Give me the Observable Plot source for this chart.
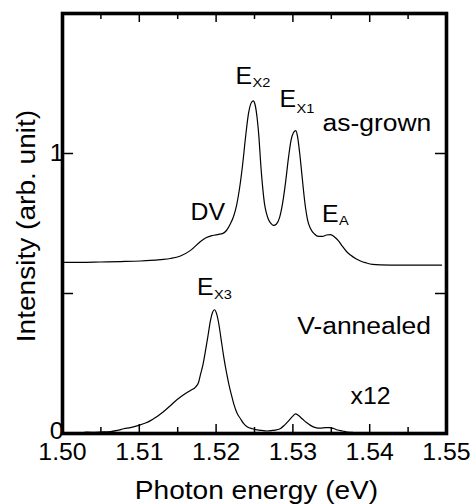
<!DOCTYPE html>
<html><head><meta charset="utf-8">
<script src="https://cdn.jsdelivr.net/npm/d3@7"></script>
<script src="https://cdn.jsdelivr.net/npm/@observablehq/plot@0.6"></script>
<style>
html,body{margin:0;padding:0;background:#fff;}
</style></head><body><div id="chart"></div>
<script>
// as-grown spectrum (photon energy eV, intensity arb. unit)
const grownEnergy = [1.5000,1.50234,1.50495,1.50755,1.51016,1.51146,1.51276,1.51406,1.51536,1.51667,1.51797,1.51875,1.51953,1.52031,1.52083,1.52135,1.52188,1.52227,1.52266,1.52305,1.52344,1.52383,1.52422,1.52454,1.52483,1.52507,1.52535,1.52559,1.52578,1.52604,1.52630,1.52656,1.52682,1.52715,1.52747,1.52786,1.52826,1.52865,1.52904,1.52943,1.52975,1.53008,1.53038,1.53060,1.53086,1.53112,1.53138,1.53164,1.53190,1.53229,1.53281,1.53333,1.53385,1.53438,1.53490,1.53542,1.53594,1.53646,1.53698,1.53750,1.53815,1.53880,1.53958,1.54036,1.54141,1.54401,1.54661,1.54935];
const grownIntensity = [0.611,0.611,0.6125,0.614,0.616,0.618,0.621,0.625,0.634,0.654,0.686,0.700,0.707,0.711,0.714,0.725,0.750,0.775,0.814,0.875,0.957,1.057,1.143,1.179,1.188,1.175,1.125,1.054,0.975,0.886,0.821,0.786,0.764,0.750,0.743,0.748,0.771,0.821,0.896,0.986,1.046,1.075,1.082,1.061,1.007,0.939,0.868,0.807,0.764,0.732,0.7125,0.704,0.704,0.709,0.710,0.702,0.688,0.668,0.650,0.6375,0.625,0.616,0.609,0.604,0.602,0.601,0.601,0.601];
// V-annealed spectrum (x12)
const annealedEnergy = [1.50234,1.50322,1.5043,1.50495,1.50625,1.50716,1.50798,1.50885,1.50993,1.51081,1.51146,1.51211,1.51276,1.51341,1.51406,1.51471,1.51536,1.51602,1.51667,1.51732,1.51771,1.51797,1.51829,1.51862,1.51895,1.51927,1.51953,1.51979,1.52005,1.52035,1.52064,1.52100,1.52135,1.52165,1.52201,1.52230,1.52275,1.52318,1.52357,1.52409,1.52474,1.52535,1.52591,1.52665,1.52734,1.52786,1.52839,1.52891,1.52947,1.52995,1.53034,1.53073,1.53121,1.53177,1.53229,1.53294,1.53359,1.53424,1.53477,1.53529,1.53581,1.53646,1.53707,1.53776,1.53837,1.54010,1.54401,1.54922];
const annealedIntensity = [0.000,0.005,0.004,0.005,0.007,0.011,0.017,0.021,0.029,0.0375,0.046,0.057,0.070,0.084,0.100,0.116,0.130,0.143,0.154,0.166,0.182,0.211,0.246,0.296,0.350,0.404,0.432,0.442,0.429,0.392,0.339,0.273,0.218,0.1775,0.136,0.106,0.071,0.0525,0.036,0.023,0.017,0.013,0.011,0.009,0.011,0.013,0.018,0.030,0.046,0.061,0.070,0.064,0.0525,0.039,0.029,0.021,0.019,0.021,0.021,0.018,0.0125,0.009,0.005,0.004,0.001,0.000,0.000,0.000];

const xTickLabels = [1.50,1.51,1.52,1.53,1.54,1.55];
const xMinorTicks = [1.505,1.515,1.525,1.535,1.545];
const yMajorTicks = [0.5,1.0];
const yTickLabels = [0,1];

// annotations: text, energy, intensity (baseline), kind
const labelText   = ["E","X2","E","X1","as-grown","DV","E","A","E","X3","V-annealed","x12"];
const labelEnergy = [1.52253,1.52474,1.52826,1.53047,1.53385,1.51667,1.53380,1.53600,1.51751,1.51973,1.53056,1.5375];
const labelValue  = [1.250,1.239,1.165,1.146,1.082,0.761,0.755,0.746,0.493,0.479,0.356,0.1036];
const labelKind   = ["E","sub","E","sub","big","mid","E","sub","E","sub","big","mid"];

const W = 473, H = 504, mL = 62, mR = 27, mT = 13, mB = 71;
const fw = W - mL - mR, fh = H - mT - mB;

const grown = grownEnergy.map((e,i)=>({e, v: grownIntensity[i]}));
const annealed = annealedEnergy.map((e,i)=>({e, v: annealedIntensity[i]}));
const labels = labelText.map((t,i)=>({t, e: labelEnergy[i], v: labelValue[i], k: labelKind[i]}));
const sizeOf = {E: 23, sub: 13.5, big: 24.5, mid: 23};
const xMajor = xTickLabels.slice(1,-1);

const labelMarks = Object.keys(sizeOf).map(k =>
  Plot.text(labels.filter(d=>d.k===k), {x: "e", y: "v", text: "t", textAnchor: "start", lineAnchor: "bottom", fontSize: sizeOf[k], fill: "#000"}));

const plot = Plot.plot({
  width: W, height: H,
  marginLeft: mL, marginRight: mR, marginTop: mT, marginBottom: mB,
  style: {fontFamily: "Arial, 'Liberation Sans', sans-serif", color: "#000", background: "#fff"},
  x: {domain: [1.50, 1.55]},
  y: {domain: [0, 1.5]},
  marks: [
    Plot.line(grown, {x: "e", y: "v", stroke: "#000", strokeWidth: 1.2, curve: "monotone-x"}),
    Plot.line(annealed, {x: "e", y: "v", stroke: "#000", strokeWidth: 1.2, curve: "monotone-x"}),
    // inward ticks
    Plot.tickX(xMajor, {x: d=>d, stroke: "#000", strokeWidth: 1.5, insetTop: fh - 9}),
    Plot.tickX(xMajor, {x: d=>d, stroke: "#000", strokeWidth: 1.5, insetBottom: fh - 9}),
    Plot.tickX(xMinorTicks, {x: d=>d, stroke: "#000", strokeWidth: 1.5, insetTop: fh - 6}),
    Plot.tickX(xMinorTicks, {x: d=>d, stroke: "#000", strokeWidth: 1.5, insetBottom: fh - 6}),
    Plot.tickY(yMajorTicks, {y: d=>d, stroke: "#000", strokeWidth: 1.5, insetRight: fw - 11}),
    Plot.tickY(yMajorTicks, {y: d=>d, stroke: "#000", strokeWidth: 1.5, insetLeft: fw - 11}),
    Plot.frame({stroke: "#000", strokeWidth: 3.6}),
    Plot.axisX(xTickLabels, {tickSize: 0, tickPadding: 10, tickFormat: d3.format(".2f"), fontSize: 23, label: null}),
    Plot.axisY(yTickLabels.filter(d=>d!==0), {tickSize: 0, tickPadding: -1, tickFormat: d3.format("d"), fontSize: 23, label: null}),
    Plot.axisY(yTickLabels.filter(d=>d===0), {tickSize: 0, tickPadding: -1, dy: -2, tickFormat: d3.format("d"), fontSize: 23, label: null}),
    ...labelMarks,
    Plot.text(["Photon energy (eV)"], {frameAnchor: "bottom", dx: 2, dy: 65, textAnchor: "middle", lineAnchor: "bottom", fontSize: 26, fill: "#000"}),
    Plot.text(["Intensity (arb. unit)"], {frameAnchor: "left", dx: -36, dy: 2.5, rotate: -90, textAnchor: "middle", lineAnchor: "middle", fontSize: 26, fill: "#000"})
  ]
});

// slightly wide glyphs as in the reference (stretch along the reading direction)
const S = 1.08;
plot.querySelectorAll("text").forEach(t => {
  const tr = t.getAttribute("transform");
  if (tr) {
    t.setAttribute("transform", tr + " scale(" + S + ",1)");
  } else {
    const x = +(t.getAttribute("x") || 0), y = +(t.getAttribute("y") || 0);
    t.removeAttribute("x"); t.removeAttribute("y");
    t.setAttribute("transform", `translate(${x},${y}) scale(${S},1)`);
  }
});
document.getElementById("chart").appendChild(plot);
</script>
</body></html>
